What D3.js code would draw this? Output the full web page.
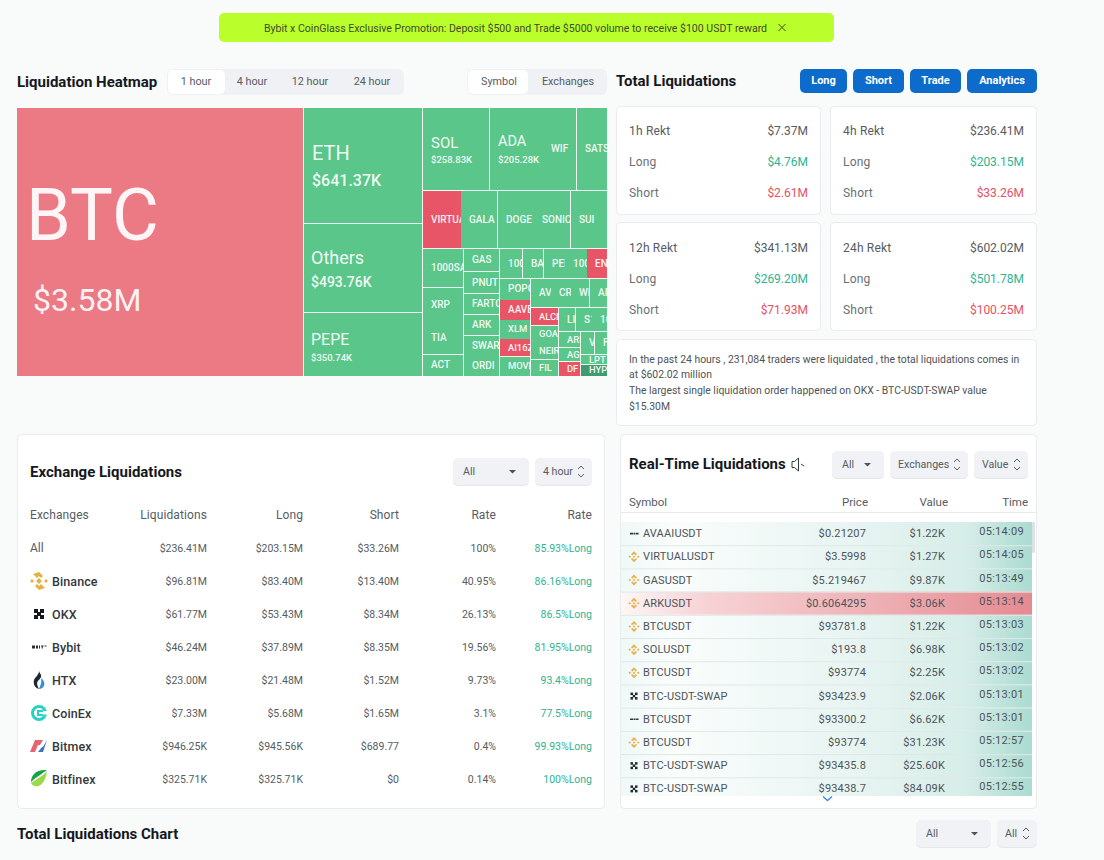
<!DOCTYPE html>
<html><head><meta charset="utf-8">
<script src="https://cdn.jsdelivr.net/npm/d3@7"></script>
<style>
html,body{margin:0;padding:0;background:#f9fafa;overflow:hidden}
svg{display:block;font-family:Roboto,"Noto Sans",sans-serif}
</style></head><body><svg id="c" width="1104" height="860"></svg>
<script>
// ---- data ----
const heatSymbols=["BTC","ETH","Others","PEPE","SOL","ADA","WIF","SATS","VIRTUAL","GALA","DOGE","SONIC","SUI","1000SATS","XRP","TIA","ACT","GAS","PNUT","FARTC","ARK","SWARM","ORDI","100X","BAN","PEN","1000","ENA","POPC","AAVE","XLM","AI16Z","MOVE","AVA","CR","WL","AP","ALCH","GOAT","NEIR","FIL","LI","S1","10","ARI","AGI","DF","V","F","LPT","HYP"];
const heatValues=[3580,641.37,493.76,350.74,258.83,205.28,132,116,103,100,97,100,97,74.5,65,63,40,38.6,37,35,35,34,33.5,32,29.4,29,31,28,30,29,27.5,26,27.5,27,27,26,23,23.5,22,22,21,19,18,17,16.4,15.4,14.4,15,13,12,13];
const heatShort=["BTC","VIRTUAL","ENA","AAVE","AI16Z","ALCH","DF"];
const heatDark=["HYP"];
const exNames=["All","Binance","OKX","Bybit","HTX","CoinEx","Bitmex","Bitfinex"];
const exLiq=["$236.41M","$96.81M","$61.77M","$46.24M","$23.00M","$7.33M","$946.25K","$325.71K"];
const exLong=["$203.15M","$83.40M","$53.43M","$37.89M","$21.48M","$5.68M","$945.56K","$325.71K"];
const exShort=["$33.26M","$13.40M","$8.34M","$8.35M","$1.52M","$1.65M","$689.77","$0"];
const exShare=["100%","40.95%","26.13%","19.56%","9.73%","3.1%","0.4%","0.14%"];
const exRate=["85.93%Long","86.16%Long","86.5%Long","81.95%Long","93.4%Long","77.5%Long","99.93%Long","100%Long"];
const exHeaders=["Exchanges","Liquidations","Long","Short","Rate","Rate"];
const rektPeriods=["1h Rekt","4h Rekt","12h Rekt","24h Rekt"];
const rektTotal=["$7.37M","$236.41M","$341.13M","$602.02M"];
const rektLong=["$4.76M","$203.15M","$269.20M","$501.78M"];
const rektShort=["$2.61M","$33.26M","$71.93M","$100.25M"];
const feedSymbols=["AVAAIUSDT","VIRTUALUSDT","GASUSDT","ARKUSDT","BTCUSDT","SOLUSDT","BTCUSDT","BTC-USDT-SWAP","BTCUSDT","BTCUSDT","BTC-USDT-SWAP","BTC-USDT-SWAP"];
const feedVenue=["bybit","binance","binance","binance","binance","binance","binance","okx","bybit","binance","okx","okx"];
const feedPrice=["$0.21207","$3.5998","$5.219467","$0.6064295","$93781.8","$193.8","$93774","$93423.9","$93300.2","$93774","$93435.8","$93438.7"];
const feedValue=["$1.22K","$1.27K","$9.87K","$3.06K","$1.22K","$6.98K","$2.25K","$2.06K","$6.62K","$31.23K","$25.60K","$84.09K"];
const feedTime=["05:14:09","05:14:05","05:13:49","05:13:14","05:13:03","05:13:02","05:13:02","05:13:01","05:13:01","05:12:57","05:12:56","05:12:55"];
const feedSide=["l","l","l","s","l","l","l","l","l","l","l","l"];
const infoLines=["In the past 24 hours , 231,084 traders were liquidated , the total liquidations comes in","at $602.02 million","The largest single liquidation order happened on OKX - BTC-USDT-SWAP value","$15.30M"];
const heatTabs=["1 hour","4 hour","12 hour","24 hour"];
const groupTabs=["Symbol","Exchanges"];
const actionButtons=["Long","Short","Trade","Analytics"];

// ---- helpers ----
const svg=d3.select("#c"), defs=svg.append("defs");
const C={ink:"#15181d",text:"#4d5359",sub:"#5f656b",green:"#2fb394",red:"#e5515f",line:"#e9ebee"};
function T(x,y,s,o={}){return svg.append("text").attr("x",x).attr("y",y).attr("dominant-baseline","central").attr("text-anchor",o.a||"start").attr("font-size",o.s||12).attr("font-weight",o.w||400).attr("fill",o.c||C.text).attr("letter-spacing",o.ls||0).text(s);}
function card(x,y,w,h){svg.append("rect").attr("x",x+.5).attr("y",y+.5).attr("width",w-1).attr("height",h-1).attr("rx",4).attr("fill","#fff").attr("stroke",C.line);}
function pill(x,y,w,h,fill,r=5){return svg.append("rect").attr("x",x).attr("y",y).attr("width",w).attr("height",h).attr("rx",r).attr("fill",fill);}
function filter(x,y,w,label,kind){
  pill(x,y+1,w,27,"#e4e6ea",5);pill(x,y,w,27,"#f0f2f5",5);
  T(x+(kind==="drop"?10:8),y+13,label,{s:10.6,c:"#565c62"});
  const r=x+w-(kind==="drop"?17:11);
  if(kind==="drop")svg.append("path").attr("d",`M${r-3} ${y+12}h7l-3.5 3.5z`).attr("fill","#4d5359");
  else svg.append("path").attr("d",`M${r-3} ${y+11}l3-3 3 3M${r-3} ${y+16}l3 3 3-3`).attr("fill","none").attr("stroke","#565c62").attr("stroke-width",1);
}
// ---- banner ----
pill(219,13,615,29,"#baff2b",5);
T(264,28,"Bybit x CoinGlass Exclusive Promotion: Deposit $500 and Trade $5000 volume to receive $100 USDT reward",{s:10.55,c:"#3f4a28"});
svg.append("path").attr("d","M778.5 24l7 7M785.5 24l-7 7").attr("stroke","#3f4a28").attr("stroke-width",1);
// ---- heatmap header ----
T(17,82,"Liquidation Heatmap",{s:15,w:700,c:C.ink});
pill(167,69,237,26,"#eff1f4",6);pill(168,70,57,24,"#fff",5);
const tabX=d3.scaleOrdinal().domain(heatTabs).range([196,252,310,372]);
heatTabs.forEach(t=>T(tabX(t),81,t,{s:10.8,a:"middle",c:"#565c62"}));
pill(467,69,140,26,"#eff1f4",6);pill(468,70,60,24,"#fff",5);
const grpX=d3.scaleOrdinal().domain(groupTabs).range([499,568]);
groupTabs.forEach(t=>T(grpX(t),81,t,{s:10.8,a:"middle",c:"#565c62"}));

// ---- treemap ----
const heatW=590,heatH=268;
const heatValue=new Map(heatSymbols.map((s,i)=>[s,heatValues[i]]));
const cols=(...children)=>({dir:"cols",children}),rows=(...children)=>({dir:"rows",children}),merged=(...children)=>({dir:"merged",children});
const tailBlock=cols(rows("ARI","AGI","DF"),rows(cols("V","F"),"LPT","HYP"));
const lowerRight=rows(cols("LI",merged("S1","10")),tailBlock);
const midBlock=cols(rows("ALCH",merged("GOAT","NEIR"),"FIL"),lowerRight);
const rightBlock=rows(cols(merged("AVA","CR","WL"),"AP"),midBlock);
const smallBlock=rows(cols("100X","BAN",merged("PEN","1000","ENA")),cols(rows(merged("POPC","AAVE","XLM","AI16Z"),"MOVE"),rightBlock));
const lowerBlock=cols(rows("1000SATS",merged("XRP","TIA"),"ACT"),rows("GAS","PNUT","FARTC","ARK",merged("SWARM","ORDI")),smallBlock);
const altBlock=rows(cols("SOL",merged("ADA","WIF"),"SATS"),cols(merged("VIRTUAL","GALA"),merged("DOGE","SONIC"),"SUI"),lowerBlock);
const heatTree=cols("BTC",rows("ETH","Others","PEPE"),altBlock);
const tile=(n,a,b,c,d)=>{const dir=n.data.dir==="merged"?n.parent.data.dir:n.data.dir;(dir==="cols"?d3.treemapDice:d3.treemapSlice)(n,a,b,c,d);};
const heatRoot=d3.treemap().size([heatW,heatH]).tile(tile).round(true)(d3.hierarchy(heatTree,d=>d.children).sum(d=>typeof d==="string"?heatValue.get(d):0));
const heat=svg.append("g").attr("transform","translate(17,108)");
const leaves=heatRoot.leaves();
const fillOf=s=>heatShort.includes(s)?(s==="BTC"?"#ec7a85":"#e85567"):heatDark.includes(s)?"#3f9c72":"#5bc68a";
heat.selectAll("rect.cell").data(leaves).join("rect").attr("class","cell").attr("shape-rendering","crispEdges")
 .attr("x",d=>d.x0).attr("y",d=>d.y0).attr("width",d=>d.x1-d.x0).attr("height",d=>d.y1-d.y0).attr("fill",d=>fillOf(d.data));
const outlined=heatRoot.descendants().filter(d=>d.depth>0&&(d.data.dir==="merged"||(!d.children&&d.parent.data.dir!=="merged")));
heat.selectAll("path.out").data(outlined).join("path").attr("class","out")
 .attr("d",d=>(d.y1<heatH?`M${d.x0} ${d.y1-.5}H${d.x1}`:"")+(d.x1<heatW?`M${d.x1-.5} ${d.y0}V${d.y1}`:"")||"M0 0")
 .attr("fill","none").attr("stroke","#fff").attr("stroke-width",1).attr("stroke-opacity",.9);
const bigStyle={BTC:{n:72,v:32,dx:9,ny:107,vy:192,vx:16},ETH:{n:20,v:16,dx:8,ny:45,vy:72,w:500},Others:{n:18,v:14,dx:7,ny:33,vy:58,w:500},PEPE:{n:16,v:9.5,dx:7,ny:26,vy:44,w:500},SOL:{n:15,v:9.5,dx:8,ny:35,vy:51,w:500},ADA:{n:14.5,v:9.5,dx:8,ny:33,vy:51,w:500}};
leaves.forEach((d,i)=>{
  const id="lab"+i;
  defs.append("clipPath").attr("id",id).append("rect").attr("x",d.x0).attr("y",d.y0).attr("width",d.x1-d.x0).attr("height",d.y1-d.y0);
  const g=heat.append("g").attr("clip-path",`url(#${id})`).attr("fill","#fff");
  const st=bigStyle[d.data];
  const txt=(x,y,s,size,w)=>g.append("text").attr("x",x).attr("y",y).attr("dominant-baseline","central").attr("font-size",size).attr("font-weight",w||500).attr("fill-opacity",.93).text(s);
  if(st){
    txt(d.x0+st.dx,d.y0+st.ny,d.data,st.n,400);
    const v=heatValue.get(d.data);
    txt(d.x0+(st.vx||st.dx),d.y0+st.vy,v>=1000?"$"+(v/1000).toFixed(2)+"M":"$"+v.toFixed(2)+"K",st.v,st.w||400);
  }else txt(d.x0+8,(d.y0+d.y1)/2-1,d.data,(d.y1-d.y0)<20?9.4:10);
});

// ---- total liquidations ----
T(616,81,"Total Liquidations",{s:15,w:700,c:C.ink});
const btnX=[800,853,910,967],btnW=[47,51,51,70];
actionButtons.forEach((b,i)=>{pill(btnX[i],69,btnW[i],24,"#0d6bcb",5);T(btnX[i]+btnW[i]/2,80,b,{s:11,w:700,c:"#fff",a:"middle"});});
const cardX=[616,830],cardW=[205,207],cardY=[106,222];
rektPeriods.forEach((p,i)=>{
  const cx=cardX[i%2],cw=cardW[i%2],cy=cardY[Math.floor(i/2)]+(i<2?0:1);
  card(cx,cardY[Math.floor(i/2)],cw,109);
  const R=cx+cw-13;
  T(cx+13,cy+25,p,{s:12,c:"#565c62",ls:.2});T(R,cy+25,rektTotal[i],{s:12,a:"end",c:"#565c62"});
  T(cx+13,cy+56,"Long",{s:12,c:"#6a7076",ls:.2});T(R,cy+56,rektLong[i],{s:12,a:"end",c:C.green});
  T(cx+13,cy+87,"Short",{s:12,c:"#6a7076",ls:.2});T(R,cy+87,rektShort[i],{s:12,a:"end",c:C.red});
});
card(616,339,421,87);
const infoY=d3.scalePoint().domain(infoLines).range([359,406]);
infoLines.forEach(l=>T(629,infoY(l),l,{s:10.4,c:"#4d5359"}));

// ---- exchange table ----
card(17,434,588,375);
T(30,472,"Exchange Liquidations",{s:15,w:700,c:C.ink});
filter(453,458,76,"All","drop");filter(535,458,57,"4 hour","sort");
const colRight=[null,207,303,399,496,592];
exHeaders.forEach((h,i)=>T(i?colRight[i]:30,515,h,{s:12,a:i?"end":"start",c:"#565c62",ls:.1}));
const exY=d3.scalePoint().domain(exNames).range([548,779]);
function logo(k,x,y){
  const g=svg.append("g").attr("transform",`translate(${x},${y})`);
  if(k==="Binance"){g.append("path").attr("d","M0-9l4 4-2 2-2-2-2 2-4-4zM-9 0l2-2 2 2-2 2zM9 0l-2-2-2 2 2 2zM0-3l3 3-3 3-3-3zM0 9l-4-4 2-2 2 2 2-2 4 4z").attr("fill","#e3b341");}
  else if(k==="OKX"){[[-5,-5],[1,-5],[-2,-2],[-5,1],[1,1]].forEach(p=>g.append("rect").attr("x",p[0]).attr("y",p[1]).attr("width",4).attr("height",4).attr("fill","#15181d"));}
  else if(k==="Bybit"){g.append("path").attr("d","M-7-1.5h3v3h-3zM-3-1.5h2v3h-2zM0-1.5h1v3h-1zM2-1.5h2.5v1h-.7v2h-1.1v-2h-.7zM5.5-1.5h2v1h-2z").attr("fill","#2a2e33");}
  else if(k==="HTX"){g.append("path").attr("d","M0-9C1-5 5-5 -1 1C-3 3 -1 7 0 9C-4 8 -6 4 -5 0C-4-3 0-5 0-9z").attr("fill","#1b2733");g.append("path").attr("d","M2-2C5 0 6 3 5 6C4 8 2 9 0 9C1 6 3 3 2-2z").attr("fill","#3c8ddb");}
  else if(k==="CoinEx"){g.append("circle").attr("r",6.5).attr("fill","none").attr("stroke","#26d2c3").attr("stroke-width",3);g.append("path").attr("d","M4-2H-1v4h5").attr("fill","none").attr("stroke","#26d2c3").attr("stroke-width",2);g.append("rect").attr("x",5).attr("y",-2).attr("width",4).attr("height",3.5).attr("fill","#fff");}
  else if(k==="Bitmex"){g.append("path").attr("d","M-9 6L-4-6H4L1-1H-1L-4 6z").attr("fill","#e9636f");g.append("path").attr("d","M-1 6L3 1H4L8-6L4 6z").attr("fill","#3c72c2");}
  else if(k==="Bitfinex"){g.append("path").attr("d","M8-9C-3-10-8-4-8 3C-3-2 3-5 8-9z").attr("fill","#16a34a");g.append("path").attr("d","M8-8C4-3-1-1-8 4C-5 10 6 9 8-8z").attr("fill","#9bd84a");}
}
exNames.forEach((n,i)=>{
  const y=exY(n);
  if(i===0)T(30,y,n,{s:12,c:"#565c62"});
  else{logo(n,39,y);T(52,y,n,{s:12.5,w:500,c:"#33383d",ls:.1});}
  [exLiq,exLong,exShort,exShare].forEach((a,j)=>T(colRight[j+1],y,a[i],{s:10.5,a:"end",c:"#565c62"}));
  T(colRight[5],y,exRate[i],{s:10.5,a:"end",c:C.green});
});

// ---- real-time feed ----
card(620,434,417,375);
T(629,464,"Real-Time Liquidations",{s:15,w:700,c:C.ink});
svg.append("path").attr("d","M792 461.5h2.5l4-3.5v13l-4-3.5H792zM801 464l3 2").attr("fill","none").attr("stroke","#33383d").attr("stroke-width",1);
filter(832,451,52,"All","drop");filter(890,451,78,"Exchanges","sort");filter(974,451,54,"Value","sort");
T(629,502,"Symbol",{s:11.5,c:"#565c62"});T(868,502,"Price",{s:11.5,a:"end",c:"#565c62"});T(948,502,"Value",{s:11.5,a:"end",c:"#565c62"});T(1028,502,"Time",{s:11.5,a:"end",c:"#565c62"});
svg.append("line").attr("x1",621).attr("x2",1036).attr("y1",512.5).attr("y2",512.5).attr("stroke","#e8eaed");
function grad(id,stops){const g=defs.append("linearGradient").attr("id",id);stops.forEach(s=>g.append("stop").attr("offset",s[0]).attr("stop-color",s[1]));}
grad("gl",[[0,"#eff9f7"],[.13,"#fafdfc"],[.6,"#e6f4f1"],[.84,"#d6ede8"],[1,"#aadbd1"]]);
grad("gs",[[0,"#fef6f6"],[.2,"#f7d3d6"],[.6,"#eeb2b6"],[1,"#e58a91"]]);
defs.append("clipPath").attr("id","feedclip").append("rect").attr("x",621).attr("y",522).attr("width",411).attr("height",274);
const feedY=d3.scaleBand().domain(d3.range(feedSymbols.length)).range([522,800.5]);
const feed=svg.append("g").attr("clip-path","url(#feedclip)");
feed.selectAll("rect").data(feedSymbols).join("rect").attr("x",621).attr("y",(d,i)=>feedY(i)).attr("width",411).attr("height",feedY.bandwidth()).attr("fill",(d,i)=>feedSide[i]==="s"?"url(#gs)":"url(#gl)");
feed.selectAll("line").data(feedSymbols).join("line").attr("x1",621).attr("x2",1032).attr("y1",(d,i)=>feedY(i)+.5).attr("y2",(d,i)=>feedY(i)+.5).attr("stroke","#dfe8e7").attr("stroke-opacity",(d,i)=>i?1:0);
function ft(x,y,s,o){feed.append("text").attr("x",x).attr("y",y).attr("dominant-baseline","central").attr("text-anchor",o.a||"start").attr("font-size",o.s||11).attr("fill","#4d5359").attr("letter-spacing",o.ls||.15).text(s);}
feedSymbols.forEach((s,i)=>{
  const y=feedY(i)+feedY.bandwidth()/2;
  const g=feed.append("g").attr("transform",`translate(634,${y})`);
  if(feedVenue[i]==="binance"){g.append("path").attr("d","M0-5.5l3 3-1.3 1.3L0-3-1.7-1.2-3-2.5zM0 5.5l-3-3 1.3-1.3L0 3l1.7-1.8L3 2.5zM-5.5 0l1.3-1.3L-2.9 0l-1.3 1.3zM5.5 0l-1.3-1.3L2.9 0l1.3 1.3zM0-1.3L1.3 0 0 1.3-1.3 0z").attr("fill","#eab04a");}
  else if(feedVenue[i]==="okx"){[[-3.5,-3.5],[1,-3.5],[-1.25,-1.25],[-3.5,1],[1,1]].forEach(p=>g.append("rect").attr("x",p[0]).attr("y",p[1]).attr("width",2.5).attr("height",2.5).attr("fill","#22262b"));}
  else g.append("path").attr("d","M-4-.8h3v1.6h-3zM-.5-.8h1.5v1.6h-1.5zM1.5-.8h3v1.6h-3z").attr("fill","#33383d");
  ft(643,y,s,{});
  ft(866,y,feedPrice[i],{a:"end"});
  ft(945,y,feedValue[i],{a:"end"});
  ft(1024,y-2,feedTime[i],{a:"end",ls:.3});
});
pill(1032,522,3,31,"#dfe2e5",1);
svg.append("path").attr("d","M823 796.5l4.5 4 4.5-4").attr("fill","none").attr("stroke","#3f8fdc").attr("stroke-width",1.5);

// ---- footer ----
T(17,834,"Total Liquidations Chart",{s:15,w:700,c:C.ink});
filter(916,820,75,"All","drop");filter(997,820,40,"All","sort");
</script></body></html>
